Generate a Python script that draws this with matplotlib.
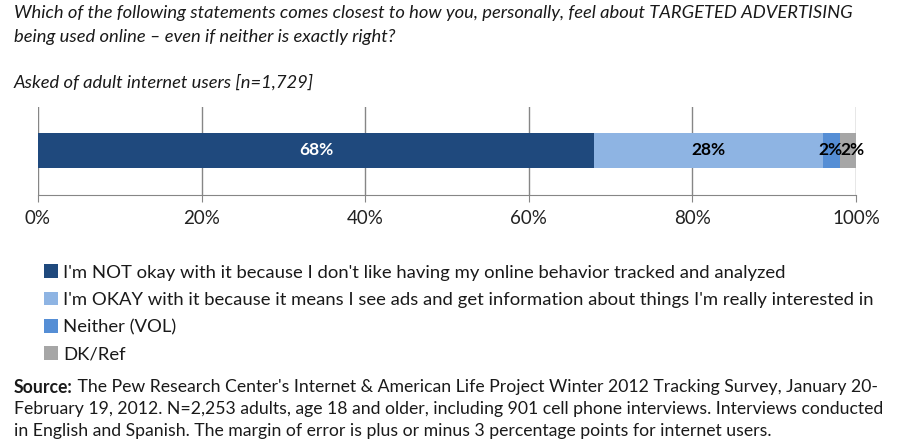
import matplotlib
matplotlib.use("Agg")
import matplotlib.pyplot as plt
from matplotlib.ticker import FuncFormatter

plt.rcParams['font.family'] = ['Lato', 'DejaVu Sans']

# survey answers, stacked left to right
labels = [
    "I'm NOT okay with it because I don't like having my online behavior tracked and analyzed",
    "I'm OKAY with it because it means I see ads and get information about things I'm really interested in",
    "Neither (VOL)",
    "DK/Ref",
]
values = [68, 28, 2, 2]
colors = ['#1F497D', '#8EB4E3', '#558ED5', '#A6A6A6']
label_colors = ['white', 'black', 'black', 'black']
ticks = [0, 20, 40, 60, 80, 100]

question = ("Which of the following statements comes closest to how you, personally, feel about TARGETED ADVERTISING\n"
            "being used online \u2013 even if neither is exactly right?")
subtitle = "Asked of adult internet users [n=1,729]"
source_bold = "Source:"
source_rest = (" The Pew Research Center's Internet & American Life Project Winter 2012 Tracking Survey, January 20-")
source_more = ("February 19, 2012. N=2,253 adults, age 18 and older, including 901 cell phone interviews. Interviews conducted\n"
               "in English and Spanish. The margin of error is plus or minus 3 percentage points for internet users.")

fig = plt.figure(figsize=(9.03, 4.47), dpi=100)
ax = fig.add_axes([38 / 903, 1 - 195 / 447, 818 / 903, 88 / 447])

grid_col = '#868686'
left = 0
handles = []
# the two thin slivers at the end get their labels nudged apart a little
nudge = [0, 0, -1, 3]
for lab, v, c, tc, dx in zip(labels, values, colors, label_colors, nudge):
    b = ax.barh(0.506, v, left=left, height=0.40, color=c, label=lab, zorder=3)
    handles.append(b)
    ax.annotate(f"{v}%", (left + v / 2, 0.506), xytext=(dx, 0), textcoords='offset points',
                ha='center', va='center', color=tc, fontsize=12.5, fontweight='bold', zorder=4)
    left += v

ax.set_xlim(0, 100)
ax.set_ylim(0, 1)
ax.set_xticks(ticks)
ax.xaxis.set_major_formatter(FuncFormatter(lambda x, p: f"{int(x)}%"))
ax.set_yticks([])
ax.grid(axis='x', color=grid_col, linewidth=1, zorder=0)
for s in ['top', 'right', 'left']:
    ax.spines[s].set_visible(False)
ax.spines['bottom'].set_color(grid_col)
ax.tick_params(axis='x', length=5, color=grid_col, labelsize=13.5, pad=6, labelcolor='#222222')

fig.text(14 / 903, 1 - 5 / 447, question, ha='left', va='top', fontsize=13.2,
         style='italic', linespacing=1.6, color='#1a1a1a')
fig.text(14 / 903, 1 - 74 / 447, subtitle, ha='left', va='top', fontsize=13.2,
         style='italic', color='#1a1a1a')

fig.legend(handles=handles, labels=labels, loc='upper left',
           bbox_to_anchor=(37 / 903, 1 - 257 / 447), frameon=False,
           fontsize=13.3, handlelength=0.75, handleheight=0.75, handletextpad=0.25,
           labelspacing=0.6, borderaxespad=0, labelcolor='#1a1a1a')

t = fig.text(14 / 903, 1 - 379 / 447, source_bold, ha='left', va='top',
             fontsize=12.7, fontweight='bold', color='#1a1a1a')
fig.canvas.draw()
bb = t.get_window_extent()
fig.text(bb.x1 / 903, 1 - 379 / 447, source_rest, ha='left', va='top',
         fontsize=12.7, color='#1a1a1a')
fig.text(14 / 903, 1 - 401 / 447, source_more, ha='left', va='top',
         fontsize=12.7, linespacing=1.45, color='#1a1a1a')

fig.savefig('out.png', dpi=100)
